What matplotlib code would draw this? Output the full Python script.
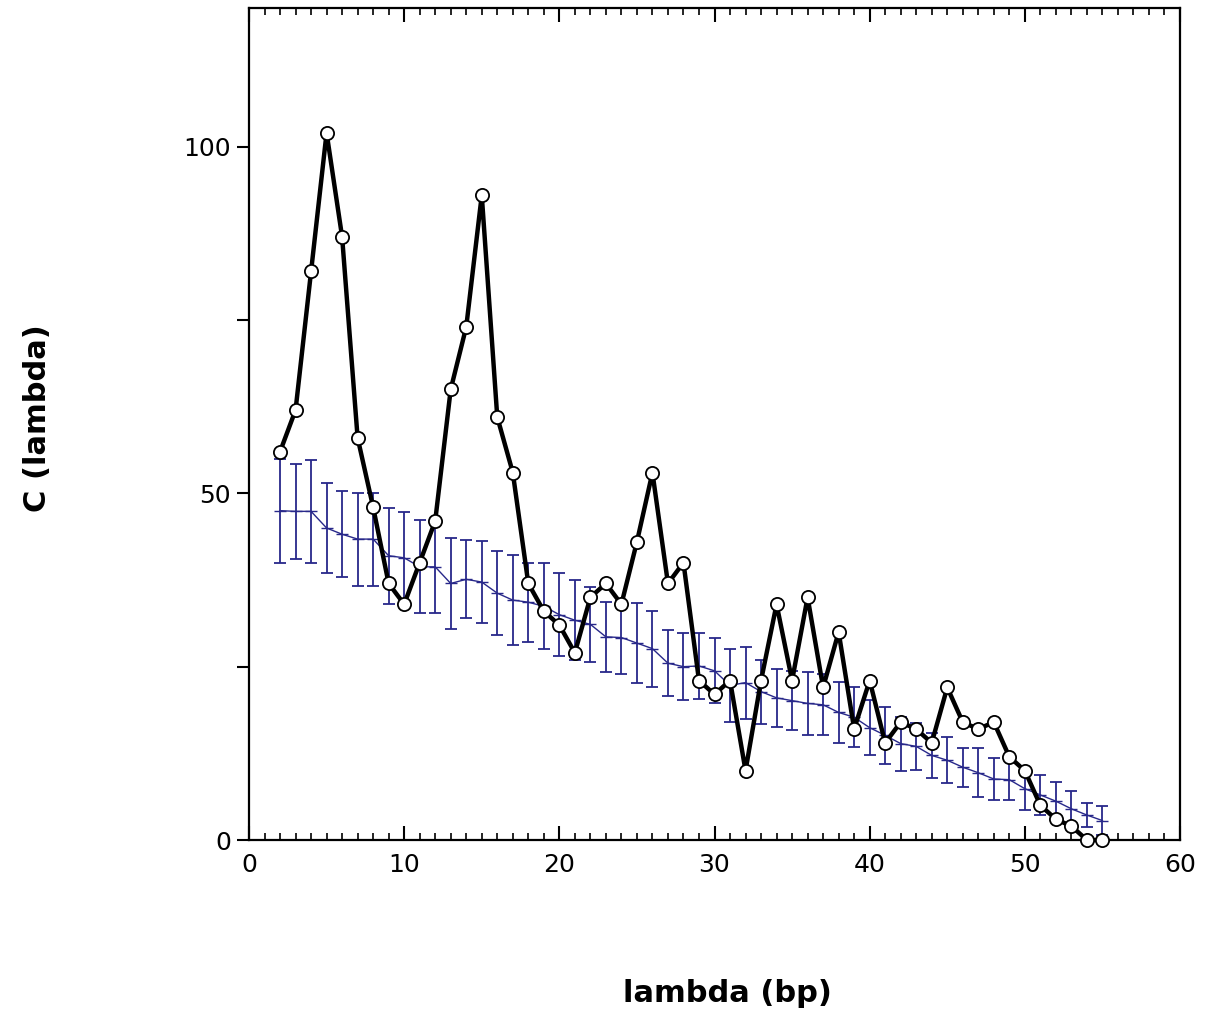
import matplotlib
matplotlib.use("Agg")
import matplotlib.pyplot as plt
import numpy as np
from matplotlib.ticker import MultipleLocator

# observed C(lambda), lambda = 2..55 bp
lam = list(range(2, 56))
c_obs = [56, 62, 82, 102, 87, 58, 48, 37, 34, 40,
         46, 65, 74, 93, 61, 53, 37, 33, 31, 27,
         35, 37, 34, 43, 53, 37, 40, 23, 21, 23,
         10, 23, 34, 23, 35, 22, 30, 16, 23, 14,
         17, 16, 14, 22, 17, 16, 17, 12, 10, 5,
         3, 2, 0, 0]

# random model: mean and error bar half-width
c_mean = [47.5, 47.4, 47.4, 45.0, 44.1, 43.4, 43.4, 41.0, 40.7, 39.4,
          39.4, 37.0, 37.6, 37.2, 35.6, 34.6, 34.3, 33.7, 32.5, 31.7,
          31.1, 29.3, 29.2, 28.4, 27.6, 25.5, 25.0, 25.1, 24.4, 22.3,
          22.7, 21.4, 20.5, 20.1, 19.7, 19.5, 18.4, 17.7, 16.2, 15.1,
          13.9, 13.5, 12.2, 11.5, 10.5, 9.7, 8.8, 8.7, 7.4, 6.5,
          5.6, 4.5, 3.6, 2.8]
c_err = [7.5, 6.8, 7.4, 6.5, 6.2, 6.7, 6.7, 6.9, 6.6, 6.7,
         6.7, 6.5, 5.6, 5.9, 6.1, 6.5, 5.7, 6.2, 6.0, 5.8,
         5.4, 5.0, 5.2, 5.8, 5.5, 4.8, 4.8, 4.8, 4.7, 5.3,
         5.2, 4.6, 4.2, 4.3, 4.6, 4.4, 4.4, 4.3, 4.0, 4.1,
         3.9, 3.4, 3.3, 3.3, 2.8, 3.5, 3.0, 2.9, 3.1, 2.9,
         2.7, 2.6, 1.7, 2.1]

blue = "#28288a"

fig = plt.figure(figsize=(12.05, 10.16), dpi=100)
ax = fig.add_axes([249 / 1205, 1 - 840 / 1016, (1180 - 249) / 1205, (840 - 8) / 1016])

ax.errorbar(lam, c_mean, yerr=c_err, color=blue, lw=1.0, elinewidth=1.3,
            capsize=4, capthick=1.3, marker="_", markersize=9, zorder=2)
ax.plot(lam, c_obs, color="black", lw=3.2, marker="o", markersize=9.5,
        markerfacecolor="white", markeredgecolor="black", markeredgewidth=1.3,
        zorder=3, clip_on=False)

ax.set_xlim(0, 60)
ax.set_ylim(0, 120)

ax.xaxis.set_major_locator(MultipleLocator(10))
ax.xaxis.set_minor_locator(MultipleLocator(1))
ax.set_yticks([0, 25, 50, 75, 100])
ax.set_yticklabels(["0", "", "50", "", "100"])

ax.tick_params(axis="x", which="major", direction="in", length=10, width=1.5,
               top=True, bottom=True, labelsize=18, pad=9)
ax.tick_params(axis="x", which="minor", direction="in", length=5, width=1.2,
               top=True, bottom=True)
ax.tick_params(axis="y", which="major", direction="out", length=9, width=1.5,
               left=True, right=False, labelsize=18, pad=4)

for s in ax.spines.values():
    s.set_linewidth(1.6)

fig.text(727 / 1205, 1 - 993 / 1016, "lambda (bp)", ha="center", va="center",
         fontsize=22, fontweight="bold")
fig.text(38 / 1205, 1 - 418 / 1016, "C (lambda)", ha="center", va="center",
         rotation=90, fontsize=22, fontweight="bold")

fig.savefig("out.png", dpi=100)
